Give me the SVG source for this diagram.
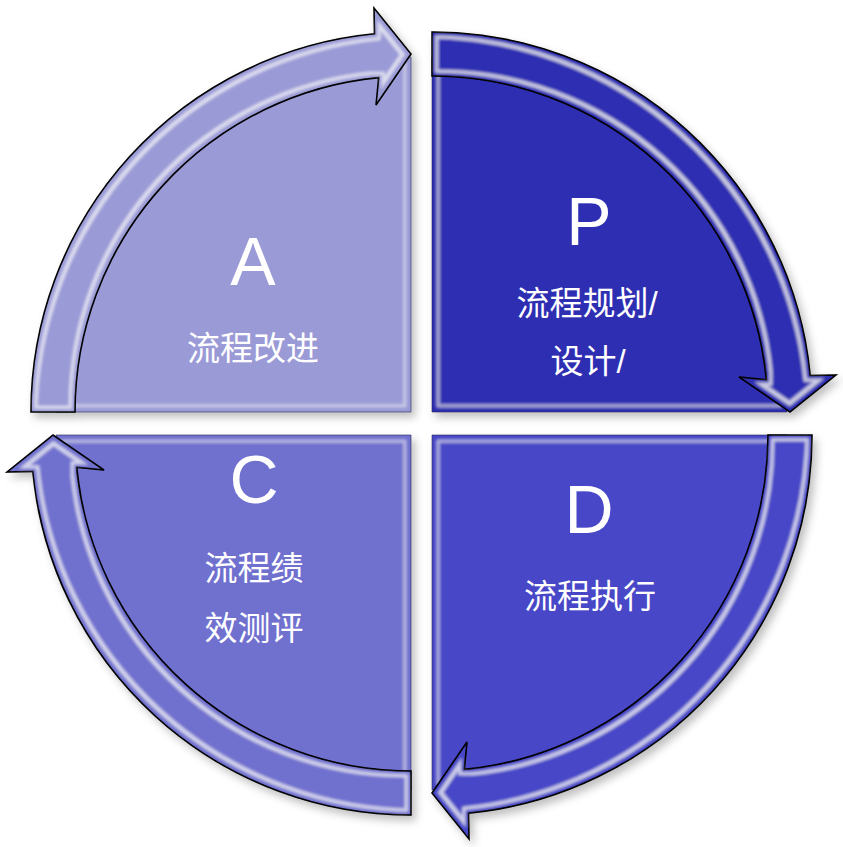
<svg xmlns="http://www.w3.org/2000/svg" xmlns:xlink="http://www.w3.org/1999/xlink" width="843" height="847" viewBox="0 0 843 847">
<defs>
<style>
.lt{font-family:"Liberation Sans",Arial,sans-serif;font-size:68px;fill:#fff;text-anchor:middle}
.cj{font-family:"Liberation Sans","Noto Sans CJK SC",sans-serif;font-size:33px;fill:#fff;text-anchor:middle}
.arrow{stroke:#000;stroke-width:1.6;stroke-linejoin:miter}
.slice{stroke:#2a2a55;stroke-opacity:0.6;stroke-width:1}
</style>
<path id="arrowShape" d="M-380,0 A380,380 0 0 1 -36.5,-378.2 L-37,-404 L0,-358 L-35,-307 L-32.3,-334.4 A336,336 0 0 0 -336,0 Z"/>
<path id="sliceShape" d="M0,0 L-355,0 A355,355 0 0 1 0,-355 Z"/>
<filter id="bevel" x="-10%" y="-10%" width="120%" height="120%">
<feMorphology in="SourceAlpha" operator="erode" radius="4" result="e1"/>
<feMorphology in="SourceAlpha" operator="erode" radius="7" result="e2"/>
<feComposite in="e1" in2="e2" operator="out" result="ring"/>
<feGaussianBlur in="ring" stdDeviation="1.4" result="ringb"/>
<feFlood flood-color="#ffffff" flood-opacity="0.6"/>
<feComposite in2="ringb" operator="in" result="hl"/>
<feMerge><feMergeNode in="SourceGraphic"/><feMergeNode in="hl"/></feMerge>
</filter>
<filter id="bevelSoft" x="-10%" y="-10%" width="120%" height="120%">
<feMorphology in="SourceAlpha" operator="erode" radius="5" result="e1"/>
<feMorphology in="SourceAlpha" operator="erode" radius="8" result="e2"/>
<feComposite in="e1" in2="e2" operator="out" result="ring"/>
<feGaussianBlur in="ring" stdDeviation="1.4" result="ringb"/>
<feFlood flood-color="#ffffff" flood-opacity="0.4"/>
<feComposite in2="ringb" operator="in" result="hl"/>
<feMerge><feMergeNode in="SourceGraphic"/><feMergeNode in="hl"/></feMerge>
</filter>
<filter id="shadow" x="-10%" y="-10%" width="125%" height="125%">
<feGaussianBlur in="SourceAlpha" stdDeviation="4"/>
<feOffset dx="4" dy="5" result="b"/>
<feFlood flood-color="#000" flood-opacity="0.25"/>
<feComposite in2="b" operator="in" result="s"/>
<feMerge><feMergeNode in="s"/><feMergeNode in="SourceGraphic"/></feMerge>
</filter>
</defs>
<rect width="843" height="847" fill="#ffffff"/>

<g id="quadrant-A" filter="url(#shadow)">
<g transform="translate(411,412)">
<use xlink:href="#sliceShape" class="slice" fill="#9a9ad7" filter="url(#bevelSoft)"/>
<use xlink:href="#arrowShape" class="arrow" fill="#9a9ad7" filter="url(#bevel)"/>
</g>
</g>
<g id="quadrant-P" filter="url(#shadow)">
<g transform="translate(432,412) rotate(90)">
<use xlink:href="#sliceShape" class="slice" fill="#2e2eb3" filter="url(#bevelSoft)"/>
<use xlink:href="#arrowShape" class="arrow" fill="#2e2eb3" filter="url(#bevel)"/>
</g>
</g>
<g id="quadrant-D" filter="url(#shadow)">
<g transform="translate(432,435) rotate(180)">
<use xlink:href="#sliceShape" class="slice" fill="#4747c7" filter="url(#bevelSoft)"/>
<use xlink:href="#arrowShape" class="arrow" fill="#4747c7" filter="url(#bevel)"/>
</g>
</g>
<g id="quadrant-C" filter="url(#shadow)">
<g transform="translate(411,435) rotate(270)">
<use xlink:href="#sliceShape" class="slice" fill="#7070cf" filter="url(#bevelSoft)"/>
<use xlink:href="#arrowShape" class="arrow" fill="#7070cf" filter="url(#bevel)"/>
</g>
</g>

<g id="label-A">
<text class="lt" x="253" y="285">A</text>
<text class="cj" x="253" y="360">流程改进</text>
</g>
<g id="label-P">
<text class="lt" x="589" y="245">P</text>
<text class="cj" x="587" y="315">流程规划/</text>
<text class="cj" x="588" y="373">设计/</text>
</g>
<g id="label-C">
<text class="lt" x="254" y="503">C</text>
<text class="cj" x="254" y="580">流程绩</text>
<text class="cj" x="254" y="640">效测评</text>
</g>
<g id="label-D">
<text class="lt" x="589" y="533">D</text>
<text class="cj" x="590" y="608">流程执行</text>
</g>
</svg>
